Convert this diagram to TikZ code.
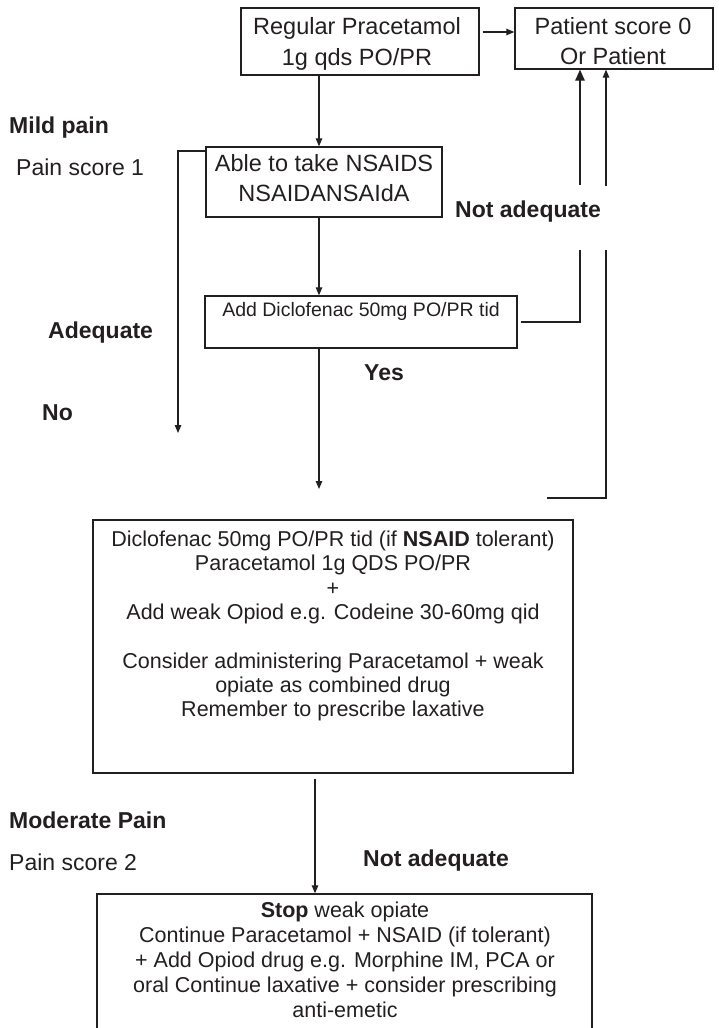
\documentclass[tikz,border=0pt]{standalone}
\usepackage{fontspec}
\setmainfont{Liberation Sans}
\usetikzlibrary{arrows.meta}
\definecolor{ink}{HTML}{231F20}
\begin{document}
\begin{tikzpicture}[x=1pt,y=-1pt,
  box/.style={draw=ink, line width=1.3pt, rectangle, inner sep=0pt},
  txt/.style={text=ink, align=center, inner sep=0pt},
  lbl/.style={text=ink, anchor=west, inner sep=0pt},
  conn/.style={draw=ink, line width=1.2pt},
  arr/.style={conn, -{Triangle[length=8pt,width=6.5pt]}},
  bigarr/.style={conn, -{Triangle[length=11pt,width=9.5pt]}},
  fbig/.style={font=\fontsize{23.5}{30.5}\selectfont},
  fmid/.style={font=\fontsize{21.5}{24.3}\selectfont},
  fsmall/.style={font=\fontsize{19.5}{23}\selectfont},
  flbl/.style={font=\fontsize{23}{27}\selectfont},
  fbold/.style={font=\bfseries\fontsize{23}{27}\selectfont}]
\useasboundingbox (0,0) rectangle (718,1028);

% boxes
\node[box, minimum width=238pt, minimum height=67pt] (box1) at (360,41.5) {};
\node[box, minimum width=198pt, minimum height=61pt] (box2) at (614,38.5) {};
\node[box, minimum width=236pt, minimum height=70pt] (able) at (324,182) {};
\node[box, minimum width=312pt, minimum height=52pt] (add) at (361,322) {};
\node[box, minimum width=480pt, minimum height=253pt] (big) at (333,646.5) {};
\node[box, minimum width=495pt, minimum height=160pt] (bot) at (344.5,974) {};

% box texts
\node[txt, fbig] (box1txt) at (357,44) {Regular Pracetamol\\1g qds PO/PR};
\node[txt, fbig] (box2txt) at (613,41) {Patient score 0\\Or Patient};
\node[txt, fbig] (abletxt) at (324,178) {Able to take NSAIDS\\NSAIDANSAIdA};
\node[txt, fsmall] (addtxt) at (361,311) {Add Diclofenac 50mg PO/PR tid};
\node[txt, fmid] (bigtxt) at (333,626) {Diclofenac 50mg PO/PR tid (if \textbf{NSAID} tolerant)\\
  Paracetamol 1g QDS PO/PR\\
  +\\
  Add weak Opiod e.g. Codeine 30-60mg qid\\[24.3pt]
  Consider administering Paracetamol + weak\\
  opiate as combined drug\\
  Remember to prescribe laxative};
\node[txt, fmid, font=\fontsize{21.5}{25}\selectfont] (bottxt) at (345,960) {\textbf{Stop} weak opiate\\
  Continue Paracetamol + NSAID (if tolerant)\\
  + Add Opiod drug e.g. Morphine IM, PCA or\\
  oral Continue laxative + consider prescribing\\
  anti-emetic};

% side labels
\node[lbl, fbold] (mild) at (9,128) {Mild pain};
\node[lbl, flbl] (ps1) at (16,167) {Pain score 1};
\node[lbl, fbold] (notadq1) at (455,212) {Not adequate};
\node[lbl, fbold] (adq) at (48,333) {Adequate};
\node[lbl, fbold] (yes) at (364,373) {Yes};
\node[lbl, fbold] (no) at (42,413) {No};
\node[lbl, fbold] (mod) at (9,820) {Moderate Pain};
\node[lbl, flbl] (ps2) at (9,862) {Pain score 2};
\node[lbl, fbold] (notadq2) at (363,861) {Not adequate};

% free ends of connectors
\coordinate (noend) at (178,433);
\coordinate (yesend) at (319,489);
\coordinate (na1low) at (580,250);
\coordinate (na1up) at (580,185);
\coordinate (na2low) at (606,250);
\coordinate (na2up) at (606,186);
\coordinate (na2end) at (547,498);

% connectors
\draw[arr, shorten <=3pt] (box1.east |- 0,32) -- (box2.west |- 0,32);
\draw[arr] (box1.south -| 319,0) -- (able.north -| 319,0);
\draw[arr] (able.west |- 0,151) -| (noend);
\draw[arr] (able.south -| 319,0) -- (add.north -| 319,0);
\draw[arr] (add.south -| 319,0) -- (yesend);
\draw[conn, shorten <=3pt] (add.east |- 0,322) -| (na1low);
\draw[bigarr] (na1up) -- (box2.south -| na1up);
\draw[arr] (na2up) -- (box2.south -| na2up);
\draw[conn] (na2low) |- (na2end);
\draw[arr, shorten <=5pt] (big.south -| 315,0) -- (bot.north -| 315,0);
\end{tikzpicture}
\end{document}
